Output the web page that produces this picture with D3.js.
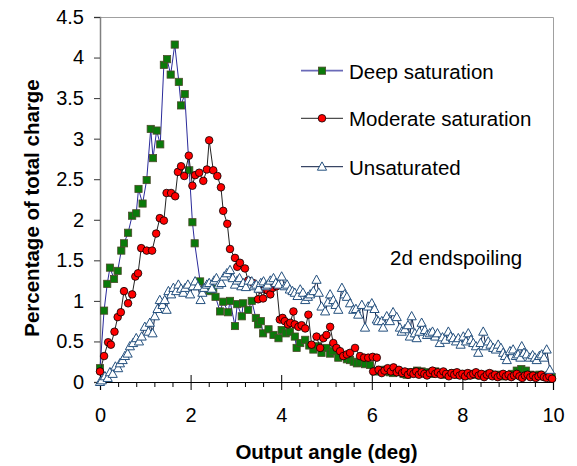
<!DOCTYPE html>
<html>
<head>
<meta charset="utf-8">
<script src="https://cdn.jsdelivr.net/npm/d3@7"></script>
<style>
  body { margin: 0; background: #fff; }
  svg { font-family: "Liberation Sans", Arial, sans-serif; }
  .tick text { font-size: 20px; fill: #000; }
</style>
</head>
<body>
<div id="chart"></div>
<script>
// Deep saturation (green squares)
const deepAngle = [0.00,0.09,0.16,0.22,0.31,0.39,0.47,0.53,0.62,0.71,0.80,0.85,0.94,1.03,1.12,1.17,1.25,1.33,1.41,1.48,
  1.56,1.65,1.74,1.79,1.87,1.97,2.04,2.09,2.21,2.32,2.43,2.50,2.55,2.65,2.72,2.83,2.87,2.98,3.03,3.13,
  3.16,3.27,3.35,3.44,3.49,3.55,3.60,3.72,3.83,3.94,4.01,4.10,4.19,4.30,4.34,4.42,4.53,4.62,4.71,4.80,
  4.89,5.00,5.08,5.15,5.26,5.37,5.45,5.52,5.60,5.67,5.75,5.85,5.96,6.07,6.18,6.26,6.33,6.40,6.47,6.55,
  6.62,6.70,6.77,6.85,6.92,7.00,7.10,7.20,7.30,7.40,7.50,7.60,7.70,7.80,7.90,8.00,8.10,8.20,8.30,8.40,
  8.50,8.60,8.70,8.80,8.90,9.00,9.10,9.20,9.30,9.40,9.50,9.60,9.70,9.80,9.90,9.97];
const deepPct = [0.17,0.88,1.21,1.41,1.27,1.37,1.62,1.71,1.84,2.05,2.08,2.38,2.20,2.49,3.12,2.76,3.10,2.93,3.91,3.98,
  3.79,4.16,3.70,3.41,3.55,2.61,1.97,1.71,1.24,1.15,1.12,1.15,1.05,0.87,0.99,0.86,1.00,0.69,0.96,0.81,
  0.97,0.89,1.00,0.79,0.71,0.75,0.60,0.65,0.58,0.54,0.64,0.60,0.62,0.56,0.42,0.48,0.52,0.45,0.40,0.44,
  0.36,0.42,0.35,0.38,0.30,0.32,0.28,0.27,0.25,0.23,0.24,0.22,0.21,0.13,0.15,0.13,0.15,0.12,0.11,0.13,
  0.12,0.10,0.09,0.12,0.11,0.14,0.13,0.12,0.10,0.13,0.11,0.09,0.10,0.11,0.09,0.10,0.08,0.10,0.09,0.08,
  0.09,0.10,0.08,0.09,0.07,0.08,0.10,0.14,0.16,0.14,0.09,0.08,0.09,0.07,0.08,0.06];

// Moderate saturation (red circles)
const moderateAngle = [0.00,0.09,0.18,0.24,0.32,0.39,0.46,0.53,0.62,0.71,0.78,0.84,0.91,1.03,1.15,1.24,1.32,1.41,1.47,1.57,
  1.66,1.72,1.79,1.86,1.96,2.04,2.10,2.19,2.28,2.36,2.41,2.50,2.59,2.67,2.72,2.81,2.87,2.98,3.03,3.09,
  3.20,3.27,3.38,3.49,3.53,3.60,3.64,3.70,3.76,3.81,3.90,3.97,4.03,4.08,4.15,4.20,4.27,4.30,4.38,4.45,
  4.53,4.60,4.67,4.78,4.86,4.93,5.00,5.08,5.15,5.22,5.30,5.37,5.45,5.52,5.63,5.74,5.83,5.92,6.02,6.11,
  6.03,6.15,6.22,6.28,6.35,6.42,6.48,6.55,6.60,6.67,6.73,6.80,6.86,6.92,6.98,7.04,7.10,7.16,7.22,7.28,
  7.34,7.40,7.46,7.52,7.58,7.64,7.70,7.76,7.82,7.88,7.94,8.00,8.06,8.12,8.18,8.24,8.30,8.36,8.42,8.48,
  8.54,8.60,8.66,8.72,8.78,8.84,8.90,8.96,9.02,9.08,9.14,9.20,9.26,9.32,9.38,9.44,9.50,9.56,9.62,9.68,
  9.74,9.80,9.86,9.92,9.98];
const moderatePct = [0.13,0.32,0.49,0.46,0.62,0.80,0.86,1.12,0.97,1.08,1.30,1.34,1.65,1.62,1.62,1.83,2.02,1.99,2.33,2.33,
  2.29,2.59,2.66,2.54,2.79,2.42,2.55,2.58,2.48,2.62,2.98,2.61,2.54,2.40,2.11,1.95,1.64,1.53,1.42,1.47,
  1.40,1.25,1.22,1.02,1.14,1.03,1.14,1.13,1.08,1.16,1.18,0.77,0.79,0.75,0.71,0.73,0.87,0.71,0.68,0.70,
  0.66,0.83,0.46,0.56,0.42,0.54,0.58,0.68,0.48,0.42,0.38,0.32,0.34,0.36,0.42,0.32,0.30,0.30,0.31,0.30,
  0.13,0.15,0.11,0.14,0.17,0.13,0.18,0.12,0.15,0.11,0.13,0.09,0.12,0.10,0.13,0.09,0.12,0.10,0.08,0.11,
  0.14,0.10,0.12,0.09,0.13,0.10,0.07,0.11,0.09,0.12,0.08,0.10,0.07,0.11,0.08,0.10,0.12,0.08,0.10,0.06,
  0.09,0.11,0.07,0.09,0.06,0.08,0.10,0.07,0.09,0.06,0.08,0.10,0.07,0.05,0.08,0.09,0.06,0.08,0.05,0.07,
  0.09,0.06,0.05,0.07,0.04];

// Unsaturated (open triangles)
const unsatAngle = [0.00,0.04,0.11,0.17,0.22,0.28,0.34,0.40,0.44,0.50,0.55,0.61,0.66,0.73,0.80,0.86,0.92,0.99,1.07,1.10,
  1.16,1.21,1.27,1.32,1.38,1.43,1.47,1.51,1.57,1.62,1.68,1.73,1.79,1.84,1.88,1.94,1.99,2.05,2.10,2.16,
  2.22,2.26,2.30,2.36,2.41,2.47,2.52,2.57,2.62,2.68,2.74,2.80,2.87,2.93,2.98,3.03,3.08,3.12,3.16,3.22,
  3.28,3.35,3.40,3.45,3.50,3.55,3.61,3.66,3.70,3.76,3.83,3.88,3.94,4.01,4.08,4.13,4.19,4.25,4.30,4.36,
  4.42,4.48,4.53,4.59,4.64,4.71,4.78,4.83,4.89,4.97,5.03,5.08,5.15,5.20,5.26,5.34,5.40,5.45,5.52,5.59,
  5.65,5.70,5.78,5.85,5.92,6.00,6.06,6.11,6.14,6.22,6.25,6.33,6.40,6.47,6.55,6.62,6.66,6.73,6.80,6.84,
  6.88,6.95,6.99,7.05,7.10,7.17,7.22,7.28,7.34,7.40,7.45,7.50,7.56,7.62,7.69,7.74,7.80,7.86,7.91,7.96,
  8.02,8.08,8.13,8.19,8.24,8.30,8.35,8.40,8.46,8.52,8.57,8.62,8.68,8.74,8.79,8.85,8.90,8.94,8.98,9.05,
  9.12,9.18,9.23,9.28,9.31,9.36,9.42,9.49,9.55,9.60,9.64,9.70,9.75,9.80,9.86,9.93];
const unsatPct = [0.00,0.02,0.07,0.05,0.12,0.10,0.19,0.17,0.23,0.27,0.32,0.35,0.44,0.48,0.54,0.50,0.56,0.68,0.62,0.73,
  0.60,0.81,0.90,1.01,0.95,1.01,0.89,1.12,1.08,1.16,1.12,1.20,1.15,1.10,1.16,1.20,1.08,1.18,1.24,1.18,
  1.01,1.10,1.16,1.20,1.22,1.15,1.25,1.28,1.20,1.22,1.30,1.34,1.38,1.28,1.20,1.25,1.28,1.18,1.22,1.17,
  1.25,1.24,1.18,1.20,1.15,1.22,1.24,1.18,1.20,1.25,1.28,1.22,1.20,1.30,1.18,1.20,1.14,1.12,1.10,1.06,
  1.14,1.10,1.01,1.05,1.08,1.12,1.26,1.10,0.93,0.87,0.98,1.08,1.01,0.95,0.89,1.16,1.08,1.05,0.97,0.89,
  0.90,0.83,0.95,0.67,0.93,0.97,0.90,0.77,0.75,0.75,0.67,0.81,0.75,0.86,0.80,0.67,0.62,0.65,0.70,0.56,
  0.81,0.60,0.54,0.62,0.73,0.64,0.58,0.60,0.62,0.56,0.60,0.48,0.55,0.52,0.62,0.56,0.54,0.50,0.54,0.46,
  0.56,0.50,0.60,0.52,0.48,0.44,0.36,0.48,0.62,0.44,0.50,0.46,0.42,0.40,0.46,0.42,0.36,0.32,0.27,0.38,
  0.40,0.32,0.34,0.30,0.44,0.36,0.34,0.30,0.33,0.30,0.27,0.32,0.34,0.30,0.40,0.15];

const seriesNames = ["Deep saturation", "Moderate saturation", "Unsaturated"];
const xMajorTicks = [0, 2, 4, 6, 8, 10];
const xMinorTicks = [0.4, 0.8, 1.2, 1.6, 2.4, 2.8, 3.2, 3.6, 4.4, 4.8, 5.2, 5.6, 6.4, 6.8, 7.2, 7.6, 8.4, 8.8, 9.2, 9.6];
const yTicks = [0, 0.5, 1, 1.5, 2, 2.5, 3, 3.5, 4, 4.5];
const yTickLabels = ["0", "0.5", "1", "1.5", "2", "2.5", "3", "3.5", "4", "4.5"];
const note = "2d endspoiling";

const width = 577, height = 466;
const margin = { left: 100, right: 553, top: 17, bottom: 382 };

const svg = d3.select("#chart").append("svg")
  .attr("width", width)
  .attr("height", height);

const x = d3.scaleLinear().domain([0, 10]).range([margin.left, margin.right]);
const y = d3.scaleLinear().domain([0, 4.5]).range([margin.bottom, margin.top]);

// plot area border (top and right only)
svg.append("path")
  .attr("d", `M${margin.left},${margin.top + 0.5}H${margin.right + 0.5}V${margin.bottom}`)
  .attr("fill", "none")
  .attr("stroke", "#a0a0a0")
  .attr("stroke-width", 1);

// y axis
const yAxis = svg.append("g")
  .attr("transform", `translate(${margin.left},0)`)
  .call(d3.axisLeft(y).tickValues(yTicks).tickSize(6).tickPadding(10)
    .tickFormat((d, i) => yTickLabels[i]));
yAxis.select(".domain").attr("stroke", "#808080").attr("stroke-width", 1.5);
yAxis.selectAll(".tick line").attr("stroke", "#333");

// x axis - minor ticks first
svg.append("g")
  .attr("transform", `translate(0,${margin.bottom})`)
  .call(d3.axisBottom(x).tickValues(xMinorTicks).tickSize(5).tickFormat(""))
  .call(g => g.select(".domain").remove())
  .selectAll(".tick line").attr("stroke", "#000");

const xAxis = svg.append("g")
  .attr("transform", `translate(0,${margin.bottom})`)
  .call(d3.axisBottom(x).tickValues(xMajorTicks).tickSize(8).tickPadding(18));
xAxis.select(".domain").attr("stroke", "#000").attr("stroke-width", 1.2);
xAxis.selectAll(".tick line").attr("stroke", "#000");
// major ticks cross the axis
xAxis.selectAll(".tick").append("line")
  .attr("y1", 0).attr("y2", -7)
  .attr("stroke", "#000");

// axis titles
svg.append("text")
  .attr("x", (margin.left + margin.right) / 2)
  .attr("y", 459)
  .attr("text-anchor", "middle")
  .attr("font-size", 20.5)
  .attr("font-weight", "bold")
  .text("Output angle (deg)");

svg.append("text")
  .attr("transform", "translate(39,208) rotate(-90)")
  .attr("text-anchor", "middle")
  .attr("font-size", 20.5)
  .attr("font-weight", "bold")
  .text("Percentage of total charge");

svg.append("text")
  .attr("x", 390)
  .attr("y", 265)
  .attr("font-size", 20.5)
  .text(note);

const line = d3.line().x(d => x(d[0])).y(d => y(d[1]));

const deep = d3.zip(deepAngle, deepPct);
const moderate = d3.zip(moderateAngle, moderatePct);
const unsat = d3.zip(unsatAngle, unsatPct);

const triPath = "M0,-4.8L4.6,3.5L-4.6,3.5Z";

// deep saturation
svg.append("path").datum(deep)
  .attr("d", line).attr("fill", "none")
  .attr("stroke", "#2b2b9b").attr("stroke-width", 1);
svg.append("g").selectAll("rect").data(deep).join("rect")
  .attr("x", d => x(d[0]) - 3.6).attr("y", d => y(d[1]) - 3.6)
  .attr("width", 7.2).attr("height", 7.2)
  .attr("fill", "#0a7a0a").attr("stroke", "#4a4a2a").attr("stroke-width", 0.8);

// moderate saturation
svg.append("path").datum(moderate)
  .attr("d", line).attr("fill", "none")
  .attr("stroke", "#222").attr("stroke-width", 1);
svg.append("g").selectAll("circle").data(moderate).join("circle")
  .attr("cx", d => x(d[0])).attr("cy", d => y(d[1]))
  .attr("r", 3.8)
  .attr("fill", "#ff0000").attr("stroke", "#000").attr("stroke-width", 0.8);

// unsaturated
svg.append("path").datum(unsat)
  .attr("d", line).attr("fill", "none")
  .attr("stroke", "#0a1a40").attr("stroke-width", 1);
svg.append("g").selectAll("path").data(unsat).join("path")
  .attr("d", triPath)
  .attr("transform", d => `translate(${x(d[0])},${y(d[1])})`)
  .attr("fill", "#fff").attr("stroke", "#24507e").attr("stroke-width", 1);

// legend
const legendY = [70.7, 118.3, 166.7];
const legendLine = ["#6a6ab8", "#222", "#0a1a40"];
const legend = svg.append("g");
seriesNames.forEach((name, i) => {
  const g = legend.append("g").attr("transform", `translate(0,${legendY[i]})`);
  g.append("line").attr("x1", 301).attr("x2", 343)
    .attr("stroke", legendLine[i]).attr("stroke-width", i === 0 ? 1.8 : 1);
  if (i === 0) {
    g.append("rect").attr("x", 318.4).attr("y", -3.6).attr("width", 7.2).attr("height", 7.2)
      .attr("fill", "#0a7a0a").attr("stroke", "#4a4a2a").attr("stroke-width", 0.8);
  } else if (i === 1) {
    g.append("circle").attr("cx", 322).attr("r", 3.8)
      .attr("fill", "#ff0000").attr("stroke", "#000").attr("stroke-width", 0.8);
  } else {
    g.append("path").attr("d", triPath).attr("transform", "translate(322,0)")
      .attr("fill", "#fff").attr("stroke", "#24507e").attr("stroke-width", 1);
  }
  g.append("text").attr("x", 349).attr("y", 8)
    .attr("font-size", 20.5).text(name);
});
</script>
</body>
</html>
